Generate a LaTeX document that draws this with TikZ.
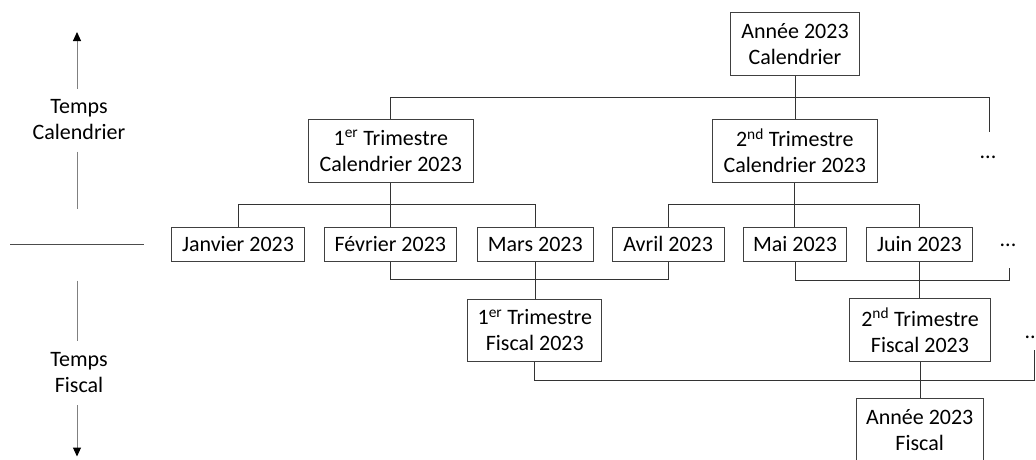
\documentclass[tikz,border=0pt]{standalone}
\usepackage{fontspec}
\setmainfont{Carlito}
\usetikzlibrary{arrows.meta}
\begin{document}
\begin{tikzpicture}[x=1pt,y=-1pt,
  txt/.style={align=center, inner sep=0pt, font=\fontsize{22}{26}\selectfont},
  box/.style={txt, draw=black!75, line width=1pt},
  month/.style={box, minimum height=34.3pt, text height=15.5pt, text depth=3pt},
  link/.style={draw=black!80, line width=1pt},
  axis/.style={draw=black!50, line width=1pt},
  tip/.style={-{Triangle[length=9pt,width=8pt,color=black]}},
]
\useasboundingbox (0,0) rectangle (1036,459);

% --- time axis on the left ---
\coordinate (upTop) at (77,32);
\coordinate (upBot) at (77,88.5);
\node[txt] (tcal) at (79,120) {Temps\\Calendrier};
\coordinate (calA) at (77,151.5);
\coordinate (calB) at (77,208.5);
\coordinate (sepL) at (10,244);
\coordinate (sepR) at (143.5,244);
\coordinate (fisA) at (77,280.5);
\coordinate (fisB) at (77,340.5);
\node[txt] (tfis) at (79,373) {Temps\\Fiscal};
\coordinate (dnTop) at (77,405);
\coordinate (dnBot) at (77,456.5);
\draw[axis,tip] (upBot) -- (upTop);
\draw[axis] (calA) -- (calB);
\draw[draw=black!70, line width=1pt] (sepL) -- (sepR);
\draw[axis] (fisA) -- (fisB);
\draw[axis,tip] (dnTop) -- (dnBot);

% --- calendar hierarchy ---
\node[box, minimum width=128.6pt, minimum height=63pt] (ycal) at (795,43.8) {Année 2023\\Calendrier};
\node[box, minimum width=165pt, minimum height=63pt] (q1c) at (390.8,150.6) {1\textsuperscript{er} Trimestre\\Calendrier 2023};
\node[box, minimum width=164.7pt, minimum height=63pt] (q2c) at (794.8,150.6) {2\textsuperscript{nd} Trimestre\\Calendrier 2023};
\node[txt] (dc) at (988,157) {...};

% --- months ---
\node[month, minimum width=132.6pt] (jan) at (238,244.8) {Janvier 2023};
\node[month, minimum width=132pt] (feb) at (390.3,244.8) {Février 2023};
\node[month, minimum width=116pt] (mar) at (535.3,244.8) {Mars 2023};
\node[month, minimum width=111.7pt] (apr) at (668.2,244.8) {Avril 2023};
\node[month, minimum width=103.4pt] (may) at (795,244.8) {Mai 2023};
\node[month, minimum width=105.6pt] (jun) at (919.5,244.8) {Juin 2023};
\node[txt] (dm) at (1008,245) {...};

% --- fiscal hierarchy ---
\node[box, minimum width=134pt, minimum height=62.7pt] (q1f) at (534.8,330.4) {1\textsuperscript{er} Trimestre\\Fiscal 2023};
\node[box, minimum width=141.4pt, minimum height=63.4pt] (q2f) at (920,330) {2\textsuperscript{nd} Trimestre\\Fiscal 2023};
\node[txt] (df) at (1033,337) {...};
\node[box, minimum width=127.3pt, minimum height=63pt] (yfis) at (919.7,429.8) {Année 2023\\Fiscal};

% --- bus lines ---
\coordinate (topR) at (989.3,97);
\coordinate (topEnd) at (989.3,132);
\coordinate (m1) at (535.3,204.3);
\coordinate (m2) at (919.5,204.3);
\coordinate (f1) at (668.2,279.5);
\coordinate (f2R) at (1009.3,280);
\coordinate (f2End) at (1009.3,267.7);
\coordinate (yR) at (1034.3,380);
\coordinate (yEnd) at (1034.3,350);

\draw[link] (q1c.north) |- (topR) -- (topEnd);
\draw[link] (ycal.south) -- (ycal.south |- q2c.north);

\draw[link] (jan.north) |- (m1) -- (mar.north);
\draw[link] (q1c.south) -- (q1c.south |- feb.north);
\draw[link] (apr.north) |- (m2) -- (jun.north);
\draw[link] (q2c.south) -- (q2c.south |- may.north);

\draw[link] (feb.south) |- (f1) -- (apr.south);
\draw[link] (mar.south) -- (mar.south |- q1f.north);
\draw[link] (may.south) |- (f2R) -- (f2End);
\draw[link] (jun.south) -- (jun.south |- q2f.north);

\draw[link] (q1f.south) |- (yR) -- (yEnd);
\draw[link] (q2f.south) -- (q2f.south |- yfis.north);
\end{tikzpicture}
\end{document}
